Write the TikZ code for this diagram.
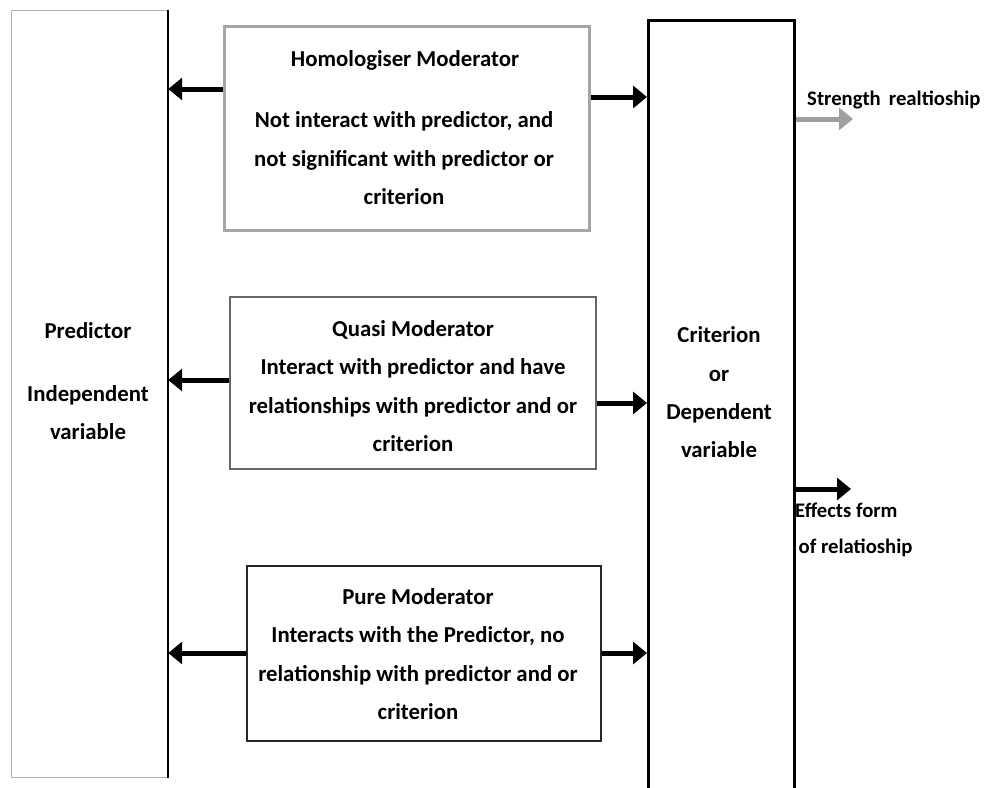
\documentclass[tikz,border=0pt]{standalone}
\usepackage{fontspec}
\setmainfont{Carlito}
\usetikzlibrary{arrows.meta}
\begin{document}
\begin{tikzpicture}[x=1pt,y=-1pt,
  box/.style={draw=#1,line width=2pt,anchor=north west,inner sep=0pt},
  txt/.style={align=center,font=\bfseries\fontsize{22.8}{38.3}\selectfont,inner sep=0pt},
  lbl/.style={align=left,font=\bfseries\fontsize{20.7}{36}\selectfont,inner sep=0pt,anchor=west},
  link/.style={line width=5pt,draw=#1,-{Triangle[length=14pt,width=22pt]}},
  link/.default=black]
\clip (0,0) rectangle (985,787);
\fill[white] (0,0) rectangle (985,787);

% predictor column
\node[box=gray!60,line width=1.2pt,minimum width=156pt,minimum height=767pt] (pred) at (11,10) {};
\draw[line width=2pt] (pred.north east) -- (pred.south east);
\node[txt,font=\bfseries\fontsize{22.8}{38}\selectfont] (predtxt) at (88,381) {Predictor\\[25pt]Independent\\variable};

% criterion column
\node[box=black,line width=2.5pt,minimum width=146pt,minimum height=780pt] (crit) at (647,19) {};
\node[txt] (crittxt) at (719,392.5) {Criterion\\or\\Dependent\\variable};

% moderator boxes
\node[box=gray!70,line width=2.5pt,minimum width=365pt,minimum height=204pt] (homo) at (223,25) {};
\node[txt] (homot) at (405,60) {Homologiser Moderator};
\node[txt,font=\bfseries\fontsize{22.8}{38.5}\selectfont] (homob) at (404,158.5) {Not interact with predictor, and\\not significant with predictor or\\criterion};

\node[box=gray!80!black,line width=2.2pt,minimum width=366pt,minimum height=172pt] (quasi) at (229,296) {};
\node[txt] (quasit) at (413,386) {Quasi Moderator\\Interact with predictor and have\\relationships with predictor and or\\criterion};

\node[box=black!85,line width=2.2pt,minimum width=354pt,minimum height=175pt] (pure) at (246,565) {};
\node[txt] (puret) at (418,654) {Pure Moderator\\Interacts with the Predictor, no\\relationship with predictor and or\\criterion};

% connectors
\draw[link] (homo.west |- 0,89) -- (pred.east |- 0,89);
\draw[link] (homo.east |- 0,97) -- (crit.west |- 0,97);
\draw[link] (quasi.west |- 0,380) -- (pred.east |- 0,380);
\draw[link] (quasi.east |- 0,403) -- (crit.west |- 0,403);
\draw[link] (pure.west |- 0,653) -- (pred.east |- 0,653);
\draw[link] (pure.east |- 0,653) -- (crit.west |- 0,653);

\coordinate (strength) at (853,119);
\coordinate (effects) at (851,489);
\draw[link=gray!75] (crit.east |- strength) -- (strength);
\draw[link] (crit.east |- effects) -- (effects);

\node[lbl] (strtxt) at (807,100) {Strength\, realtioship};
\node[lbl,font=\bfseries\fontsize{20.7}{36}\selectfont] (efftxt) at (795,530) {Effects form\\\,of relatioship};
\end{tikzpicture}
\end{document}
